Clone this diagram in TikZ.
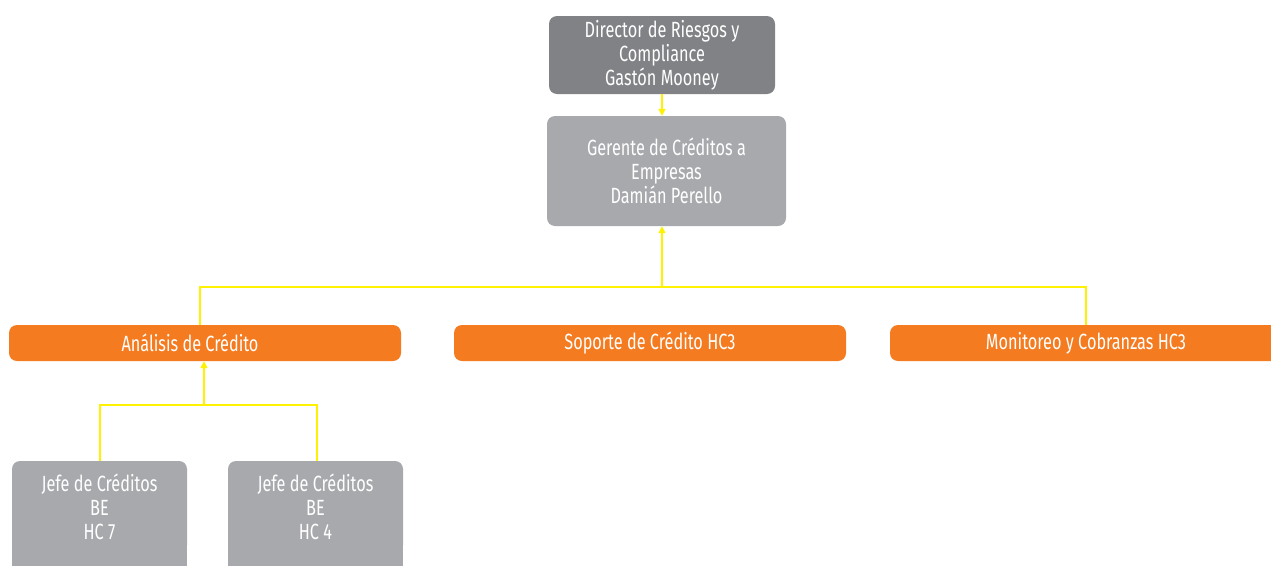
\documentclass[tikz,border=0pt]{standalone}
\usepackage{fontspec}
\setmainfont{Fira Sans}[FakeStretch=0.74]
\usetikzlibrary{arrows.meta,backgrounds}
\definecolor{dgrey}{HTML}{808285}
\definecolor{lgrey}{HTML}{A7A9AC}
\definecolor{orng}{HTML}{F47B20}
\definecolor{ylw}{HTML}{FFF200}
\begin{document}
\begin{tikzpicture}[x=1pt,y=-1pt,
  box/.style={rounded corners=8pt, fill=#1, text=white, align=center, inner sep=0pt, font=\fontsize{22}{24}\selectfont},
  conn/.style={draw=ylw, line width=1.5pt},
  arr/.style={conn, -{Triangle[length=7pt,width=7pt]}}]
\useasboundingbox (0,0) rectangle (1271,565);
\node[box=dgrey, minimum width=226pt, minimum height=78pt] (dir) at (662,55) {Director de Riesgos y\\Compliance\\Gastón Mooney};
\node[box=lgrey, minimum width=239pt, minimum height=110pt] (ger) at (666.5,171) {Gerente de Créditos a\\Empresas\\Damián Perello};
\node[box=orng, minimum width=392pt, minimum height=36pt] (ana) at (205,343) {Análisis de Crédito\hspace*{30pt}};
\node[box=orng, minimum width=392pt, minimum height=36pt] (sop) at (650,343) {Soporte de Crédito HC3};
\node[box=orng, minimum width=392pt, minimum height=36pt] (mon) at (1086,343) {Monitoreo y Cobranzas HC3};
\fill[lgrey] (12,520) rectangle (187,575);
\fill[lgrey] (228,520) rectangle (403,575);
\node[box=lgrey, minimum width=175pt, minimum height=92pt] (j1) at (99.5,507) {Jefe de Créditos\\BE\\HC 7};
\node[box=lgrey, minimum width=175pt, minimum height=92pt] (j2) at (315.5,507) {Jefe de Créditos\\BE\\HC 4};
\coordinate (bl) at (200,287);
\coordinate (bm) at (662,287);
\coordinate (br) at (1086,287);
\coordinate (sl) at (100,405);
\coordinate (sm) at (204,405);
\coordinate (sr) at (317,405);
\begin{scope}[on background layer]
\draw[conn] (ana.north -| bl) -- (bl) -- (br) -- ([yshift=-25pt]mon.north -| br);
\end{scope}
\draw[arr] (dir.south) -- (dir.south |- ger.north);
\draw[arr] (bm) -- (bm |- ger.south);
\draw[conn] (sl |- j1.north) -- (sl) -- (sr) -- (sr |- j2.north);
\draw[arr] (sm) -- (sm |- ana.south);
\end{tikzpicture}
\end{document}
